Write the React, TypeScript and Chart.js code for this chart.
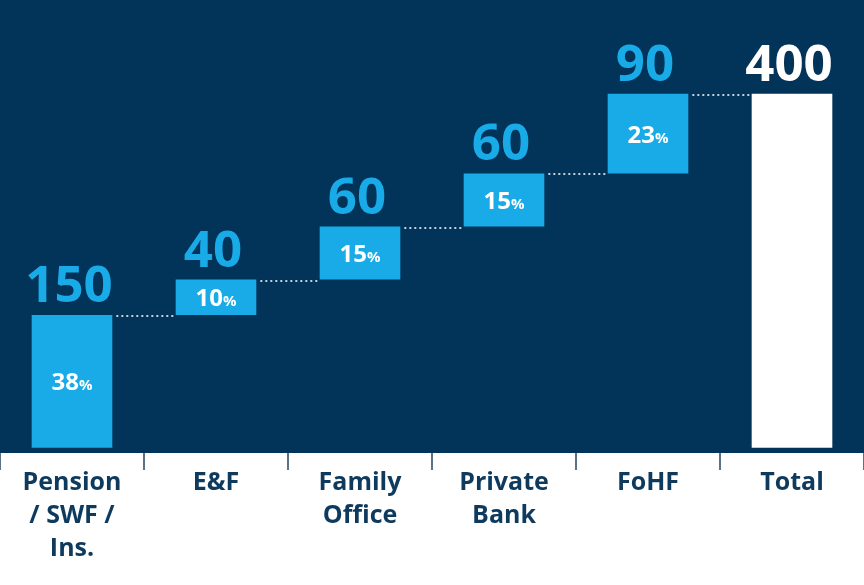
import React, { useEffect, useRef } from "react";
import { Chart, registerables } from "chart.js";

Chart.register(...registerables);

const categories: (string | string[])[] = [
  ["Pension", "/ SWF /", "Ins."],
  "E&F",
  ["Family", "Office"],
  ["Private", "Bank"],
  "FoHF",
  "Total",
];
const values = [150, 40, 60, 60, 90, 400];
const percents: (number | null)[] = [38, 10, 15, 15, 23, null];
const isTotal = [false, false, false, false, false, true];

const NAVY = "#023459";
const BLUE = "#19aae8";
const LABEL = "#0e3a5e";
const FONT = "'Open Sans', 'Noto Sans', sans-serif";

export default function App() {
  const ref = useRef<HTMLCanvasElement | null>(null);

  useEffect(() => {
    document.body.style.margin = "0";
    const ranges: [number, number][] = [];
    let cum = 0;
    values.forEach((v, i) => {
      if (isTotal[i]) {
        ranges.push([0, v]);
      } else {
        ranges.push([cum, cum + v]);
        cum += v;
      }
    });

    const bgPlugin = {
      id: "navyBg",
      beforeDraw(chart: any) {
        const { ctx, chartArea } = chart;
        ctx.save();
        ctx.fillStyle = NAVY;
        ctx.fillRect(0, 0, chart.width, chartArea.bottom);
        ctx.restore();
      },
    };

    const labelPlugin = {
      id: "wfLabels",
      afterDatasetsDraw(chart: any) {
        const { ctx } = chart;
        const meta = chart.getDatasetMeta(0);
        const y = chart.scales.y;
        ctx.save();
        ctx.strokeStyle = "#c5d0dc";
        ctx.lineWidth = 2;
        ctx.setLineDash([2, 3]);
        for (let i = 0; i < meta.data.length - 1; i++) {
          const a = meta.data[i] as any;
          const b = meta.data[i + 1] as any;
          const yy = Math.round(y.getPixelForValue(ranges[i][1])) + 1;
          ctx.beginPath();
          ctx.moveTo(a.x + a.width / 2 + 4, yy);
          ctx.lineTo(b.x - b.width / 2 - 2, yy);
          ctx.stroke();
        }
        ctx.setLineDash([]);
        meta.data.forEach((el: any, i: number) => {
          const top = y.getPixelForValue(ranges[i][1]);
          const bot = y.getPixelForValue(ranges[i][0]);
          ctx.fillStyle = isTotal[i] ? "#ffffff" : BLUE;
          ctx.font = `bold 51px ${FONT}`;
          ctx.textAlign = "center";
          ctx.textBaseline = "alphabetic";
          ctx.fillText(String(values[i]), el.x - 3, top - 13);
          const p = percents[i];
          if (p !== null) {
            ctx.fillStyle = "#ffffff";
            const main = String(p);
            ctx.font = `bold 24px ${FONT}`;
            const w1 = ctx.measureText(main).width;
            ctx.font = `bold 15px ${FONT}`;
            const w2 = ctx.measureText("%").width;
            const start = el.x - (w1 + w2) / 2;
            const cy = (top + bot) / 2 + 9;
            ctx.textAlign = "left";
            ctx.font = `bold 24px ${FONT}`;
            ctx.fillText(main, start, cy);
            ctx.font = `bold 15px ${FONT}`;
            ctx.fillText("%", start + w1, cy);
          }
        });
        ctx.restore();
      },
    };

    const chart = new Chart(ref.current as HTMLCanvasElement, {
      type: "bar",
      data: {
        labels: categories,
        datasets: [
          {
            data: ranges as any,
            backgroundColor: isTotal.map((t) => (t ? "#ffffff" : BLUE)),
            borderWidth: 0,
            borderSkipped: false,
            barPercentage: 0.56,
            categoryPercentage: 1,
          },
        ],
      },
      options: {
        animation: false,
        responsive: true,
        maintainAspectRatio: false,
        layout: { padding: 0 },
        plugins: { legend: { display: false }, tooltip: { enabled: false } },
        scales: {
          x: {
            offset: true,
            grid: {
              offset: true,
              drawOnChartArea: false,
              drawTicks: true,
              tickLength: 17,
              color: "#5a7189",
              lineWidth: 2,
            },
            border: { display: false },
            ticks: {
              color: LABEL,
              font: { family: FONT, size: 25, weight: "bold", lineHeight: 1.32 },
              padding: -4,
              maxRotation: 0,
              autoSkip: false,
            },
            afterFit: (s: any) => {
              s.height = 132;
            },
          },
          y: {
            display: false,
            min: -6,
            max: 506,
          },
        },
      },
      plugins: [bgPlugin, labelPlugin],
    });
    return () => chart.destroy();
  }, []);

  return (
    <div style={{ position: "fixed", left: 0, top: 0, width: 864, height: 585 }}>
      <canvas ref={ref} />
    </div>
  );
}
